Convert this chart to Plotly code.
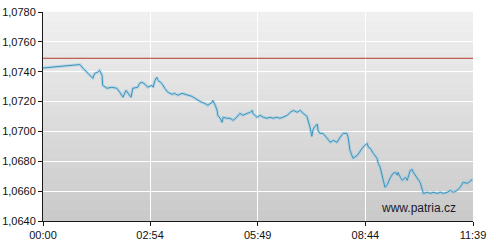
import plotly.graph_objects as go

# time in minutes since 00:00
minutes = [0, 60, 65, 76, 81, 84, 89, 92, 96, 97, 104, 112, 120, 125, 130, 135, 138, 143, 146, 154,
           157, 161, 166, 170, 177, 179, 182, 185, 187, 193, 198, 203, 210, 214, 219, 226, 231, 236, 242, 247,
           252, 258, 263, 268, 275, 276, 280, 283, 284, 288, 291, 293, 299, 304, 309, 315, 320, 325, 332, 337,
           340, 341, 348, 353, 358, 364, 369, 374, 380, 385, 390, 397, 402, 407, 413, 418, 423, 429, 434, 437,
           439, 442, 446, 447, 450, 455, 462, 467, 472, 478, 483, 488, 494, 496, 499, 503, 504, 511, 516, 520,
           527, 529, 532, 535, 537, 543, 545, 548, 551, 553, 556, 560, 564, 569, 573, 576, 577, 581, 584, 589,
           592, 597, 600, 602, 605, 608, 610, 613, 617, 618, 625, 630, 634, 641, 646, 651, 657, 662, 667, 673,
           678, 682, 683, 690, 695, 698]
rate = [1.07425, 1.07448, 1.07423, 1.07376, 1.07356, 1.07389, 1.07396, 1.07409, 1.07376, 1.07309,
        1.07289, 1.07296, 1.07289, 1.07262, 1.07229, 1.07275, 1.07255, 1.07229, 1.07289, 1.07296,
        1.07322, 1.07329, 1.07316, 1.07296, 1.07309, 1.07296, 1.07342, 1.07363, 1.07342, 1.07322,
        1.07289, 1.07262, 1.07249, 1.07255, 1.07242, 1.07255, 1.07249, 1.07242, 1.07235, 1.07222,
        1.07208, 1.07195, 1.07188, 1.07175, 1.07195, 1.07208, 1.07175, 1.07141, 1.07108, 1.07088,
        1.07061, 1.07095, 1.07088, 1.07088, 1.07074, 1.07095, 1.07121, 1.07108, 1.07121, 1.07128,
        1.07141, 1.07121, 1.07095, 1.07108, 1.07095, 1.07088, 1.07095, 1.07088, 1.07095, 1.07088,
        1.07095, 1.07108, 1.07128, 1.07141, 1.07128, 1.07141, 1.07121, 1.07101, 1.07028, 1.06967,
        1.07014, 1.07034, 1.07048, 1.07007, 1.06987, 1.06987, 1.06954, 1.06927, 1.06940, 1.06927,
        1.06961, 1.06987, 1.06987, 1.06961, 1.06873, 1.06827, 1.06820, 1.06840, 1.06873, 1.06894,
        1.06920, 1.06894, 1.06887, 1.06860, 1.06853, 1.06820, 1.06786, 1.06760, 1.06713, 1.06666,
        1.06625, 1.06646, 1.06686, 1.06719, 1.06726, 1.06706, 1.06726, 1.06692, 1.06672, 1.06692,
        1.06672, 1.06739, 1.06746, 1.06726, 1.06706, 1.06692, 1.06672, 1.06659, 1.06605, 1.06585,
        1.06592, 1.06585, 1.06592, 1.06585, 1.06592, 1.06585, 1.06592, 1.06605, 1.06592, 1.06605,
        1.06625, 1.06652, 1.06659, 1.06652, 1.06672, 1.06679]

reference_level = 1.0749

x_tick_vals = [0, 174, 349, 524, 699]
x_tick_text = ["00:00", "02:54", "05:49", "08:44", "11:39"]
y_tick_vals = [1.064, 1.066, 1.068, 1.070, 1.072, 1.074, 1.076, 1.078]

fig = go.Figure()

# soft halo under the line
fig.add_trace(go.Scatter(x=minutes, y=rate, mode="lines",
                         line=dict(color="rgba(140,200,225,0.5)", width=3),
                         hoverinfo="skip", showlegend=False))
fig.add_trace(go.Scatter(x=minutes, y=rate, mode="lines",
                         line=dict(color="#3d93bd", width=1),
                         showlegend=False))

fig.add_hline(y=reference_level, line=dict(color="#b33a2e", width=1))

# vertical gradient background
n = 40
top = (241, 241, 241)
bot = (201, 201, 201)
for i in range(n):
    f = (i + 0.5) / n
    c = tuple(round(top[k] + (bot[k] - top[k]) * f) for k in range(3))
    fig.add_shape(type="rect", xref="x domain", yref="y domain",
                  x0=0, x1=1, y0=1 - (i + 1) / n, y1=1 - i / n + 0.001,
                  fillcolor="rgb(%d,%d,%d)" % c, line=dict(width=0), layer="below")

fig.add_annotation(text="www.patria.cz", xref="x domain", yref="y domain",
                   x=0.874, y=0.062, xanchor="center", yanchor="middle", showarrow=False,
                   font=dict(family="Liberation Sans, Arial", size=12, color="#1a1a2a"))

fig.update_layout(
    width=496, height=250,
    margin=dict(l=43, r=23, t=12, b=29, autoexpand=False),
    paper_bgcolor="white", plot_bgcolor="#dcdcdc",
    separators=",.",
    font=dict(family="Liberation Sans, Arial", size=11, color="#111111"),
    xaxis=dict(range=[0, 699], tickvals=x_tick_vals, ticktext=x_tick_text,
               showgrid=True, gridcolor="white", gridwidth=1, automargin=False,
               showline=True, linecolor="#1a1a1a", linewidth=1,
               ticks="outside", ticklen=4, tickcolor="#1a1a1a", zeroline=False),
    yaxis=dict(range=[1.064, 1.078], tickvals=y_tick_vals, tickformat=".4f",
               showgrid=True, gridcolor="white", gridwidth=1, automargin=False,
               showline=True, linecolor="#1a1a1a", linewidth=1,
               ticks="outside", ticklen=4, tickcolor="#1a1a1a", zeroline=False),
)

fig.write_html("out.html")
